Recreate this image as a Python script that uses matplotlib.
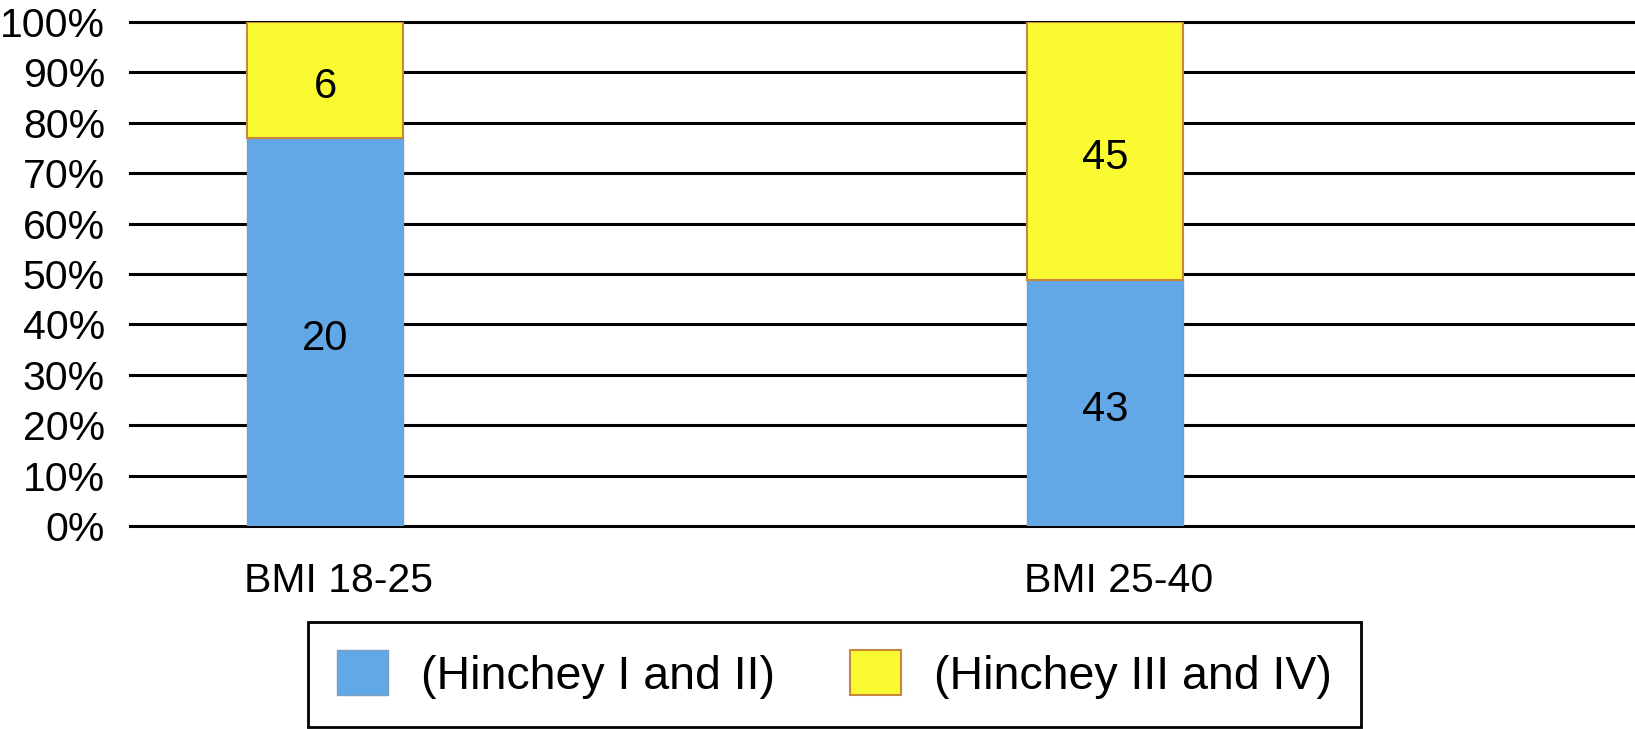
import numpy as np
import matplotlib.pyplot as plt
import matplotlib.transforms as mtransforms

plt.rcParams['font.family'] = ['Liberation Sans', 'DejaVu Sans']

# data
categories = ['BMI 18-25', 'BMI 25-40']
hinchey_1_2 = [20, 43]
hinchey_3_4 = [6, 45]
series_names = ['(Hinchey I and II)', '(Hinchey III and IV)']

blue = '#62A8E6'
yellow = '#FAFA32'

low = np.array(hinchey_1_2, dtype=float)
high = np.array(hinchey_3_4, dtype=float)
total = low + high
low_pct = low / total * 100
high_pct = high / total * 100

fig = plt.figure(figsize=(16.35, 7.29), dpi=100)
ax = fig.add_axes([0.0795, 0.2785, 0.9205, 0.6915])

x = np.arange(len(categories))
width = 0.2
b1 = ax.bar(x, low_pct, width, color=blue, edgecolor='#7A9CC0', linewidth=1.0,
            label=series_names[0], zorder=3)
b2 = ax.bar(x, high_pct, width, bottom=low_pct, color=yellow, edgecolor='#C8873A',
            linewidth=1.5, label=series_names[1], zorder=3)

# value labels sit a little below the segment middle
down = ax.transData + mtransforms.ScaledTranslation(0, -0.07, fig.dpi_scale_trans)
for i in range(len(categories)):
    ax.text(x[i], low_pct[i] / 2, str(hinchey_1_2[i]), ha='center', va='center',
            fontsize=30, zorder=4, transform=down)
    ax.text(x[i], low_pct[i] + high_pct[i] / 2, str(hinchey_3_4[i]), ha='center',
            va='center', fontsize=30, zorder=4, transform=down)

ax.set_xlim(-0.25, 1.679)
ax.set_ylim(0, 100)
ax.set_yticks(np.arange(0, 101, 10))
ax.set_yticklabels([f'{v}%' for v in range(0, 101, 10)], fontsize=29.5)
ax.set_xticks(x)
ax.set_xticklabels(categories, fontsize=29.5)
ax.tick_params(axis='y', length=0, pad=18)
ax.tick_params(axis='x', length=0, pad=26)
shift = mtransforms.ScaledTranslation(0.13, 0, fig.dpi_scale_trans)
for lab in ax.get_xticklabels():
    lab.set_transform(lab.get_transform() + shift)
ax.yaxis.grid(True, color='black', linewidth=2.2, zorder=1)
for gl in ax.get_ygridlines():
    gl.set_clip_on(False)
ax.set_axisbelow(True)
for s in ax.spines.values():
    s.set_visible(False)

leg = fig.legend(handles=[b1, b2], loc='center', bbox_to_anchor=(0.5104, 0.0748),
                 ncol=2, frameon=True, fancybox=False, framealpha=1, fontsize=33.5,
                 handlelength=1.1, handleheight=1.1, handletextpad=0.71,
                 columnspacing=1.6, borderpad=0.62)
leg.get_frame().set_edgecolor('black')
leg.get_frame().set_linewidth(2)

fig.savefig('out.png', dpi=100)
